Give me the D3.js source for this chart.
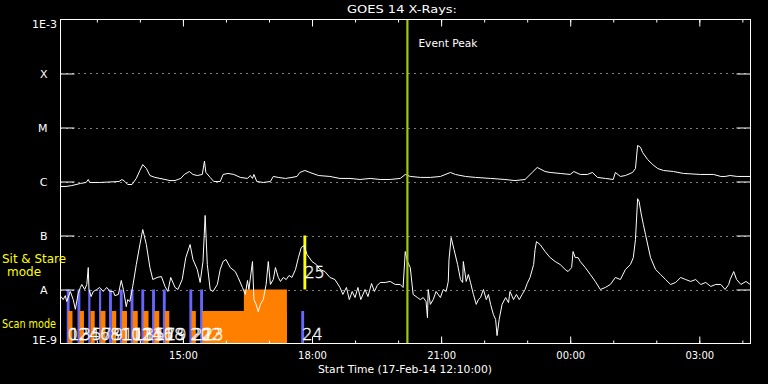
<!DOCTYPE html>
<html>
<head>
<meta charset="utf-8">
<script src="https://cdn.jsdelivr.net/npm/d3@7"></script>
<style>
  body { margin: 0; background: #000; }
  svg { display: block; }
  text { font-family: "DejaVu Sans", sans-serif; fill: #fff; }
</style>
</head>
<body>
<div class="canvas"></div>
<script>
// start of the plot window: 17-Feb-14 12:10:00, 16 hours shown
const startTime = new Date(2014, 1, 17, 12, 10);
const spanHours = 16;
const eventPeakMin = 483;

// GOES long channel (1-8 A), minutes after start / flux W m^-2
const longMin = [0, 7, 15, 27, 35, 38, 40, 54, 68, 81, 85, 89, 93, 99, 105, 110, 114, 119, 124, 131,
  138, 145, 152, 159, 163, 167, 172, 179, 184, 190, 197, 200, 202, 208, 213, 222, 226, 233, 241, 250,
  260, 264, 267, 269, 273, 282, 292, 296, 303, 313, 322, 329, 333, 340, 347, 359, 375, 389, 403, 417,
  431, 445, 459, 473, 480, 487, 501, 515, 529, 543, 550, 564, 578, 599, 619, 633, 647, 657, 664, 675,
  682, 696, 710, 715, 724, 734, 741, 748, 759, 770, 773, 780, 787, 797, 801, 804, 808, 811, 818, 825,
  832, 840, 854, 868, 892, 910, 920, 926, 933, 943, 961];
const longFlux = [8.1e-7, 8.1e-7, 8.4e-7, 9.2e-7, 9.6e-7, 1.09e-6, 9.6e-7, 9.6e-7, 9.8e-7, 1.0e-6,
  1.09e-6, 1.0e-6, 8.8e-7, 8.8e-7, 1.14e-6, 1.6e-6, 2.06e-6, 1.74e-6, 1.29e-6, 1.19e-6,
  1.14e-6, 1.09e-6, 1.04e-6, 1.04e-6, 1.09e-6, 1.14e-6, 1.35e-6, 1.53e-6, 1.35e-6, 1.29e-6,
  1.35e-6, 2.38e-6, 1.47e-6, 1.19e-6, 1.0e-6, 1.0e-6, 1.35e-6, 1.41e-6, 1.35e-6, 1.19e-6,
  1.14e-6, 1.29e-6, 1.14e-6, 1.35e-6, 1.0e-6, 9.6e-7, 1.0e-6, 1.24e-6, 1.19e-6, 1.14e-6,
  1.19e-6, 1.24e-6, 1.47e-6, 1.6e-6, 1.47e-6, 1.29e-6, 1.24e-6, 1.14e-6, 1.14e-6, 1.09e-6,
  1.14e-6, 1.09e-6, 1.09e-6, 1.14e-6, 1.35e-6, 1.24e-6, 1.19e-6, 1.19e-6, 1.24e-6, 1.47e-6,
  1.35e-6, 1.24e-6, 1.19e-6, 1.14e-6, 1.09e-6, 1.04e-6, 1.09e-6, 1.47e-6, 1.82e-6, 1.53e-6,
  1.47e-6, 1.41e-6, 1.35e-6, 1.53e-6, 1.35e-6, 1.35e-6, 1.47e-6, 1.19e-6, 1.14e-6, 1.09e-6,
  1.47e-6, 1.24e-6, 1.29e-6, 1.47e-6, 1.74e-6, 4.65e-6, 4.3e-6, 3.44e-6, 2.55e-6, 2.06e-6,
  1.74e-6, 1.6e-6, 1.53e-6, 1.41e-6, 1.35e-6, 1.35e-6, 1.24e-6, 1.24e-6, 1.29e-6, 1.24e-6, 1.24e-6];

// GOES short channel (0.5-4 A)
const shortMin = [0, 3, 6, 8, 13, 17, 20, 24, 27, 29, 33, 36, 38, 39, 42, 45, 50, 54, 59, 61,
  64, 68, 73, 75, 80, 84, 87, 91, 93, 96, 100, 105, 110, 114, 119, 124, 128, 134, 140, 145,
  149, 153, 159, 163, 169, 174, 180, 184, 190, 194, 198, 201, 204, 208, 212, 218, 222, 226, 230, 236,
  243, 247, 253, 257, 260, 262, 267, 269, 272, 275, 278, 282, 286, 289, 292, 296, 299, 303, 306, 310,
  314, 318, 322, 327, 331, 335, 339, 343, 350, 356, 361, 368, 375, 382, 389, 393, 398, 402, 406, 410,
  414, 418, 424, 428, 433, 437, 441, 445, 452, 459, 466, 473, 477, 480, 483, 487, 491, 497, 501, 505,
  509, 511, 512, 515, 519, 523, 529, 533, 537, 540, 541, 544, 548, 553, 557, 560, 561, 565, 568, 571,
  575, 579, 582, 585, 589, 593, 596, 599, 603, 606, 608, 611, 615, 620, 624, 626, 631, 635, 639, 643,
  647, 650, 654, 659, 661, 663, 668, 675, 682, 689, 696, 703, 707, 712, 714, 717, 721, 724, 731, 738,
  745, 752, 759, 766, 773, 780, 787, 794, 798, 801, 804, 806, 809, 812, 815, 822, 829, 836, 843, 850,
  857, 864, 871, 878, 885, 892, 899, 906, 913, 920, 926, 931, 933, 938, 942, 948, 955, 961];
const shortFlux = [7.4e-9, 6.5e-9, 7.7e-9, 6.0e-9, 9.2e-9, 6.5e-9, 4.3e-9, 8.4e-9, 1.09e-8, 1.24e-8,
  1.0e-8, 1.24e-8, 2.55e-8, 1.0e-8, 7.4e-9, 9.2e-9, 1.0e-8, 1.09e-8, 9.2e-9, 1.0e-8,
  1.09e-8, 9.2e-9, 9.2e-9, 7.7e-9, 8.1e-9, 1.47e-8, 1.0e-8, 4.8e-9, 6.5e-9, 6.0e-9,
  1.14e-8, 2.9e-8, 6.8e-8, 1.29e-7, 6.8e-8, 2.55e-8, 1.53e-8, 1.67e-8, 1.74e-8, 1.14e-8,
  9.2e-9, 1.67e-8, 1.09e-8, 1.0e-8, 1.53e-8, 3.9e-8, 6.8e-8, 3.6e-8, 2.35e-8, 1.35e-8,
  3.3e-8, 2.35e-7, 2.9e-8, 1.0e-8, 9.2e-9, 1.24e-8, 2.35e-8, 3.3e-8, 3.6e-8, 2.55e-8,
  2.15e-8, 1.67e-8, 1.09e-8, 8.1e-9, 1.47e-8, 1.0e-8, 3.3e-8, 6.5e-9, 5.3e-9, 3.9e-9,
  5.3e-9, 6.5e-9, 1.24e-8, 3.3e-8, 1.24e-8, 1.53e-8, 2.55e-8, 1.67e-8, 1.41e-8, 1.67e-8,
  1.53e-8, 1.82e-8, 1.67e-8, 2.35e-8, 3.9e-8, 6.0e-8, 6.5e-8, 4.45e-8, 3.3e-8, 2.9e-8,
  2.35e-8, 2.15e-8, 1.67e-8, 1.53e-8, 1.09e-8, 8.1e-9, 1.09e-8, 6.5e-9, 9.2e-9, 7.1e-9,
  1.09e-8, 6.5e-9, 1.0e-8, 7.4e-9, 1.29e-8, 9.2e-9, 1.19e-8, 1.35e-8, 1.35e-8, 1.41e-8,
  1.24e-8, 1.24e-8, 1.09e-8, 5.05e-8, 3.3e-8, 2.55e-8, 8.1e-9, 7.1e-9, 6.5e-9, 7.1e-9,
  6.0e-9, 3.0e-9, 1.0e-8, 5.3e-9, 6.5e-9, 9.2e-9, 7.1e-9, 1.0e-8, 9.2e-9, 1.41e-8,
  3.6e-8, 9.2e-8, 5.5e-8, 2.9e-8, 1.53e-8, 1.35e-8, 3.3e-8, 1.41e-8, 1.9e-8, 1.35e-8,
  8.1e-9, 5.3e-9, 6.5e-9, 7.1e-9, 1.0e-8, 6.5e-9, 8.1e-9, 5.3e-9, 3.4e-9, 2.8e-9,
  1.4e-9, 2.8e-9, 5.3e-9, 7.1e-9, 5.7e-9, 9.2e-9, 6.5e-9, 8.1e-9, 6.5e-9, 8.1e-9,
  1.0e-8, 1.29e-8, 1.67e-8, 2.9e-8, 5.5e-8, 7.7e-8, 6.8e-8, 5.05e-8, 3.9e-8, 3.3e-8,
  2.9e-8, 2.35e-8, 2.15e-8, 2.55e-8, 5.05e-8, 3.9e-8, 3.9e-8, 3.3e-8, 2.55e-8, 1.9e-8,
  1.41e-8, 1.0e-8, 1.09e-8, 1.24e-8, 1.67e-8, 1.53e-8, 2.35e-8, 2.9e-8, 3.9e-8, 8.4e-8,
  4.8e-7, 4.3e-7, 2.5e-7, 1.6e-7, 1.04e-7, 3.9e-8, 2.35e-8, 1.9e-8, 1.53e-8, 1.24e-8,
  1.35e-8, 1.67e-8, 1.53e-8, 1.41e-8, 1.53e-8, 1.24e-8, 1.35e-8, 1.14e-8, 1.24e-8, 1.24e-8,
  1.0e-8, 1.24e-8, 1.53e-8, 2.15e-8, 1.53e-8, 1.24e-8, 1.41e-8, 1.24e-8];

// observing events (scan / sit & stare blocks)
const eventLabels = ["0", "1", "2", "3", "4", "5", "6", "7", "8", "9", "10", "11", "12", "13", "14", "15",
  "16", "17", "18", "19", "20", "21", "22", "23", "", "24", "25"];
const eventStart = [8, 10, 23, 26, 38, 41, 53, 55, 67, 71, 82, 85, 97, 100, 112, 115, 127, 130, 142, 145,
  179, 182, 194, 197, 255, 335, 338];
const eventEnd = [12, 16, 27, 32, 41, 47, 56, 62, 71, 77, 86, 92, 101, 107, 116, 122, 131, 137, 146, 151,
  183, 188, 198, 315, 315, 339, 342];
const eventKind = ["a", "b", "a", "b", "a", "b", "a", "b", "a", "b", "a", "b", "a", "b", "a", "b",
  "a", "b", "a", "b", "a", "b", "a", "b", "b", "a", "s"];
const eventTop = [1e-8, 4e-9, 1e-8, 4e-9, 1e-8, 4e-9, 1e-8, 4e-9, 1e-8, 4e-9, 1e-8, 4e-9, 1e-8, 4e-9,
  1e-8, 4e-9, 1e-8, 4e-9, 1e-8, 4e-9, 1e-8, 4e-9, 1e-8, 4e-9, 1e-8, 4e-9, 1e-7];
const eventBottom = [1e-9, 1e-9, 1e-9, 1e-9, 1e-9, 1e-9, 1e-9, 1e-9, 1e-9, 1e-9, 1e-9, 1e-9, 1e-9, 1e-9,
  1e-9, 1e-9, 1e-9, 1e-9, 1e-9, 1e-9, 1e-9, 1e-9, 1e-9, 1e-9, 1e-9, 1e-9, 1e-8];

const classLevels = [1e-8, 1e-7, 1e-6, 1e-5, 1e-4];
const classNames = ["A", "B", "C", "M", "X"];

const svgWidth = 768, svgHeight = 384;
const plot = { left: 60.5, right: 750.5, top: 19.5, bottom: 343.5 };

const toDate = m => new Date(startTime.getTime() + m * 60000);

const svg = d3.select('.canvas').append('svg')
  .attr("width", svgWidth)
  .attr("height", svgHeight);

svg.append('rect')
  .attr("width", svgWidth)
  .attr("height", svgHeight)
  .attr("fill", "#000");

const x = d3.scaleTime()
  .domain([startTime, toDate(spanHours * 60)])
  .range([61, 749.5]);

const y = d3.scaleLog()
  .domain([1e-9, 1e-3])
  .range([plot.bottom, plot.top]);

// dotted class lines
svg.append('g').selectAll('line')
  .data(classLevels)
  .enter().append('line')
  .attr("x1", plot.left).attr("x2", plot.right)
  .attr("y1", d => Math.round(y(d)) + 0.5)
  .attr("y2", d => Math.round(y(d)) + 0.5)
  .attr("stroke", "#fff")
  .attr("stroke-dasharray", "1,5");

// event blocks
const color = d3.scaleOrdinal().domain(["a", "b", "s"]).range(["#6666ff", "#ff8000", "#ffff00"]);
const events = eventLabels.map((l, i) => ({
  label: l, t0: toDate(eventStart[i]), t1: toDate(eventEnd[i]),
  kind: eventKind[i], top: eventTop[i], bottom: eventBottom[i]
}));
// blue first, orange on top of it
const order = { a: 0, b: 1, s: 2 };
svg.append('g').selectAll('rect')
  .data(events.slice().sort((p, q) => order[p.kind] - order[q.kind]))
  .enter().append('rect')
  .attr("x", d => x(d.t0))
  .attr("width", d => x(d.t1) - x(d.t0))
  .attr("y", d => y(d.top))
  .attr("height", d => y(d.bottom) - y(d.top))
  .attr("fill", d => color(d.kind));

// light curves
const line = d3.line().x(d => x(d[0])).y(d => y(d[1]));
const longData = longMin.map((m, i) => [toDate(m), longFlux[i]]);
const shortData = shortMin.map((m, i) => [toDate(m), shortFlux[i]]);
[longData, shortData].forEach(ds => {
  svg.append('path')
    .datum(ds)
    .attr("d", line)
    .attr("fill", "none")
    .attr("stroke", "#fff")
    .attr("stroke-width", 1);
});

// event peak
const xPeak = x(toDate(eventPeakMin));
svg.append('line')
  .attr("x1", xPeak).attr("x2", xPeak)
  .attr("y1", plot.top).attr("y2", plot.bottom)
  .attr("stroke", "#a0c814")
  .attr("stroke-width", 2.2);
svg.append('text')
  .attr("x", xPeak + 11).attr("y", 47)
  .attr("font-size", 11)
  .attr("textLength", 59).attr("lengthAdjust", "spacingAndGlyphs")
  .text("Event Peak");

// event numbers, drawn as outlines like the reference's vector font
svg.append('g').selectAll('text')
  .data(events.filter(d => d.label !== ""))
  .enter().append('text')
  .attr("x", d => x(d.t0) + 1)
  .attr("y", d => d.kind === "s" ? y(d.bottom) - 12 : y(1e-9) - 4)
  .attr("font-size", 16)
  .attr("font-weight", 300)
  .style("fill", "none")
  .attr("stroke", "#fff")
  .attr("stroke-width", 0.6)
  .text(d => d.label);

// axes
const hourMinor = d3.timeHour.every(1);
const hourMajor = d3.timeHour.every(3);

function styleAxis(g) {
  g.select('.domain').remove();
  g.selectAll('line').attr("stroke", "#fff");
  g.selectAll('text').style("fill", "#fff").attr("font-family", "DejaVu Sans").attr("font-size", 10);
}

svg.append('g').attr("transform", `translate(0 ${plot.bottom})`)
  .call(d3.axisBottom(x).ticks(hourMinor).tickSize(-3).tickFormat(""))
  .call(styleAxis);
svg.append('g').attr("transform", `translate(0 ${plot.bottom})`)
  .call(d3.axisBottom(x).ticks(hourMajor).tickSize(-7).tickPadding(8).tickFormat(d3.timeFormat("%H:%M")))
  .call(styleAxis);
svg.append('g').attr("transform", `translate(0 ${plot.top})`)
  .call(d3.axisTop(x).ticks(hourMinor).tickSize(-3).tickFormat(""))
  .call(styleAxis);
svg.append('g').attr("transform", `translate(0 ${plot.top})`)
  .call(d3.axisTop(x).ticks(hourMajor).tickSize(-7).tickFormat(""))
  .call(styleAxis);

svg.append('g').attr("transform", `translate(${plot.left} 0)`)
  .call(d3.axisLeft(y).tickValues(classLevels).tickSize(-14).tickPadding(13)
    .tickFormat((d, i) => classNames[i]))
  .call(styleAxis)
  .selectAll('text').attr("font-size", 11);
svg.append('g').attr("transform", `translate(${plot.right} 0)`)
  .call(d3.axisRight(y).tickValues(classLevels).tickSize(-14).tickFormat(""))
  .call(styleAxis);

// frame
svg.append('rect')
  .attr("x", plot.left).attr("y", plot.top)
  .attr("width", plot.right - plot.left).attr("height", plot.bottom - plot.top)
  .attr("fill", "none").attr("stroke", "#fff");

// end labels of flux axis
svg.append('text').attr("x", 57).attr("y", y(1e-3) + 8)
  .attr("text-anchor", "end").attr("font-size", 11).text("1E-3");
svg.append('text').attr("x", 57).attr("y", y(1e-9))
  .attr("text-anchor", "end").attr("font-size", 11).text("1E-9");

// mode labels
const modeLabels = svg.append('g');
modeLabels.append('text').attr("x", 2).attr("y", 263).attr("font-size", 12)
  .attr("textLength", 64).attr("lengthAdjust", "spacingAndGlyphs")
  .style("fill", "#ffff00").text("Sit & Stare");
modeLabels.append('text').attr("x", 24).attr("y", 276).attr("font-size", 12)
  .attr("text-anchor", "middle").style("fill", "#ffff00").text("mode");
modeLabels.append('text').attr("x", 2).attr("y", 328).attr("font-size", 12)
  .attr("textLength", 54).attr("lengthAdjust", "spacingAndGlyphs")
  .style("fill", "#ffff00").text("Scan mode");

// titles
svg.append('text')
  .attr("x", 402).attr("y", 13)
  .attr("text-anchor", "middle").attr("font-size", 11)
  .attr("textLength", 110).attr("lengthAdjust", "spacingAndGlyphs")
  .text("GOES 14 X-Rays:");
svg.append('text')
  .attr("x", 405).attr("y", 373)
  .attr("text-anchor", "middle").attr("font-size", 11)
  .attr("textLength", 174).attr("lengthAdjust", "spacingAndGlyphs")
  .text("Start Time (17-Feb-14 12:10:00)");
</script>
</body>
</html>
